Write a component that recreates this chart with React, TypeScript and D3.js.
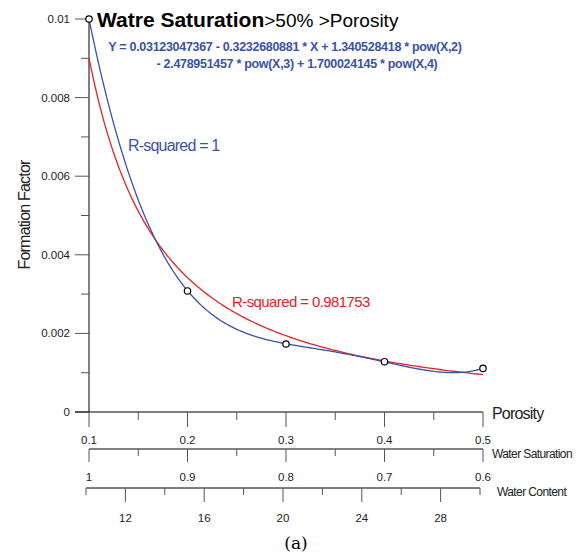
import React from 'react';
import * as d3 from 'd3';

const porosity = [0.1, 0.2, 0.3, 0.4, 0.5];
const formationFactor = [0.01, 0.00308, 0.00173, 0.00128, 0.00111];
// polynomial fit (blue), coefficients from the printed equation
const polyCoef = [0.03123047367, -0.3232680881, 1.340528418, -2.478951457, 1.700024145];
// power fit (red) a * x^b, estimated
const powerFit = [0.000361, -1.397];
const yTicks = [0, 0.002, 0.004, 0.006, 0.008, 0.01];
const satTicks = [1, 0.9, 0.8, 0.7, 0.6];
const contentTicks = [12, 16, 20, 24, 28];

const BLUE = '#3a52a8';
const RED = '#e8202a';
const F = 'Arial, Liberation Sans, sans-serif';

export default function App() {
  const x = d3.scaleLinear().domain([0.1, 0.5]).range([89, 483]);
  const y = d3.scaleLinear().domain([0, 0.01]).range([412, 19]);
  const sat = d3.scaleLinear().domain([1, 0.6]).range([89, 483]);
  const wc = d3.scaleLinear().domain([10, 30]).range([86, 480]);
  const xs = d3.range(0.1, 0.5001, 0.002);
  const poly = (v: number) => polyCoef.reduce((s, c, i) => s + c * Math.pow(v, i), 0);
  const pow = (v: number) => powerFit[0] * Math.pow(v, powerFit[1]);
  const mk = (f: (v: number) => number) => d3.line<number>().x(d => x(d)).y(d => y(f(d)))(xs) || '';

  const yMinor = d3.range(0.001, 0.01, 0.002);
  const xMinor = [0.15, 0.25, 0.35, 0.45];
  const satMinor = [0.95, 0.85, 0.75, 0.65];
  const wcMinor = d3.range(10, 30.1, 2);

  return (
    <svg width={585} height={556} style={{ position: 'absolute', left: 0, top: 0, background: '#fff' }}>
      <g fontFamily={F} fontSize={11.5} fill="#222">
        {/* y axis */}
        <line x1={89} x2={89} y1={19} y2={412} stroke="#000" />
        {yTicks.map(t => (
          <g key={t}>
            <line x1={75} x2={89} y1={y(t)} y2={y(t)} stroke="#555" />
            <text x={70} y={y(t) + 4} textAnchor="end">{t === 0 ? '0' : String(t)}</text>
          </g>
        ))}
        {yMinor.map(t => <line key={t} x1={81} x2={89} y1={y(t)} y2={y(t)} stroke="#555" />)}
        <text transform="translate(30,215) rotate(-90)" textAnchor="middle" fontSize={16} letterSpacing={-0.8}>Formation Factor</text>

        {/* porosity axis */}
        <line x1={75} x2={483} y1={412} y2={412} stroke="#000" />
        {porosity.map(t => (
          <g key={t}>
            <line x1={x(t)} x2={x(t)} y1={412} y2={427} stroke="#555" />
            <text x={x(t)} y={444} textAnchor="middle">{t}</text>
          </g>
        ))}
        {xMinor.map(t => <line key={t} x1={x(t)} x2={x(t)} y1={412} y2={420} stroke="#555" />)}
        <text x={492} y={419} fontSize={16} letterSpacing={-0.8}>Porosity</text>

        {/* water saturation axis */}
        <line x1={89} x2={483} y1={449} y2={449} stroke="#000" />
        {satTicks.map(t => (
          <g key={t}>
            <line x1={sat(t)} x2={sat(t)} y1={449} y2={462} stroke="#555" />
            <text x={sat(t)} y={481} textAnchor="middle">{t}</text>
          </g>
        ))}
        {satMinor.map(t => <line key={t} x1={sat(t)} x2={sat(t)} y1={449} y2={456} stroke="#555" />)}
        <text x={492} y={458} fontSize={12} letterSpacing={-0.6}>Water Saturation</text>

        {/* water content axis */}
        <line x1={86} x2={480} y1={488} y2={488} stroke="#000" />
        {wcMinor.map(t => (
          <line key={t} x1={wc(t)} x2={wc(t)} y1={488} y2={contentTicks.includes(t) ? 502 : 495} stroke="#555" />
        ))}
        {contentTicks.map(t => <text key={t} x={wc(t)} y={522} textAnchor="middle">{t}</text>)}
        <text x={497} y={496} fontSize={12} letterSpacing={-0.6}>Water Content</text>
      </g>

      <path d={mk(pow)} fill="none" stroke={RED} strokeWidth={1.3} />
      <path d={mk(poly)} fill="none" stroke={BLUE} strokeWidth={1.3} />
      {porosity.map((p, i) => (
        <circle key={p} cx={x(p)} cy={y(formationFactor[i])} r={3.2} fill="#fff" stroke="#000" strokeWidth={1.2} />
      ))}

      <text x={97} y={27} fontFamily={F} fontSize={21}>
        <tspan fontWeight="bold">Watre Saturation</tspan>
        <tspan fontSize={19}>&gt;50% &gt;Porosity</tspan>
      </text>
      <g fontFamily={F} fontSize={12.5} fontWeight="bold" fill={BLUE} textAnchor="middle" letterSpacing={-0.3}>
        <text x={285} y={51}>Y = 0.03123047367 - 0.3232680881 * X + 1.340528418 * pow(X,2)</text>
        <text x={297} y={68}>- 2.478951457 * pow(X,3) + 1.700024145 * pow(X,4)</text>
      </g>
      <text x={128} y={151} fontFamily={F} fontSize={16} fill={BLUE} letterSpacing={-0.8}>R-squared = 1</text>
      <text x={232} y={307} fontFamily={F} fontSize={15} fill={RED} letterSpacing={-0.6}>R-squared = 0.981753</text>
      <text x={296} y={549} textAnchor="middle" fontFamily="DejaVu Serif, serif" fontSize={17}>(a)</text>
    </svg>
  );
}
